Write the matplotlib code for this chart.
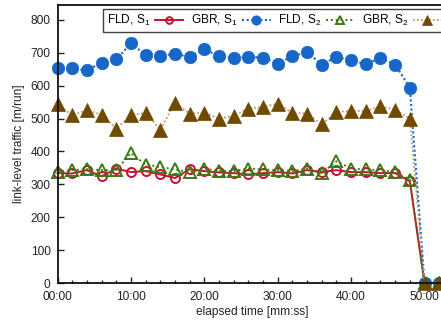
import matplotlib
matplotlib.use("Agg")
import matplotlib.pyplot as plt
import numpy as np
from matplotlib.ticker import MultipleLocator, FuncFormatter

plt.rcParams['font.family'] = ['Liberation Sans', 'DejaVu Sans']
plt.rcParams['mathtext.fontset'] = 'custom'
plt.rcParams['mathtext.rm'] = 'Liberation Sans'
plt.rcParams['mathtext.it'] = 'Liberation Sans'

# elapsed time in minutes
minutes = [0, 2, 4, 6, 8, 10, 12, 14, 16, 18, 20, 22, 24, 26, 28, 30, 32, 34, 36, 38,
           40, 42, 44, 46, 48, 50, 52]

fld_s1 = [334, 333, 343, 324, 348, 337, 340, 330, 319, 346, 340, 336, 334, 330, 334,
          337, 333, 343, 337, 343, 337, 337, 334, 334, 309, 0, 0]
gbr_s1 = [652, 652, 646, 670, 680, 728, 694, 690, 697, 687, 711, 689, 683, 687, 685,
          667, 689, 702, 664, 687, 677, 665, 684, 664, 594, 0, 0]
fld_s2 = [337, 343, 346, 343, 343, 395, 360, 353, 345, 337, 348, 340, 340, 348, 345,
          343, 340, 348, 334, 370, 348, 345, 343, 337, 314, 0, 0]
gbr_s2 = [543, 510, 525, 512, 469, 510, 517, 466, 547, 515, 517, 500, 508, 530, 535,
          545, 517, 515, 482, 520, 523, 523, 537, 527, 500, 0, 0]

labels = ['FLD, S$_1$', 'GBR, S$_1$', 'FLD, S$_2$', 'GBR, S$_2$']

fig = plt.figure(figsize=(4.41, 3.23), dpi=100)
ax = fig.add_axes([57.5/441, 1-283/323, (448-57.5)/441, (283-5)/323])

red = '#c8102e'
blue = '#1767c9'
green = '#3b7a14'
brown = '#6f4a00'
tan = '#b89c6c'

FS = 8.6

ax.plot(minutes, fld_s1, color=red, lw=1.4, ls='-', marker='o', ms=6.5, mfc='none',
        mec=red, mew=1.4, label=labels[0], clip_on=False)
ax.plot(minutes, gbr_s1, color=blue, lw=1.5, ls=(0, (1, 1.2)), marker='o', ms=9,
        mfc=blue, mec=blue, mew=0.5, label=labels[1], clip_on=False)
ax.plot(minutes, fld_s2, color=green, lw=1.4, ls=(0, (1, 1.5)), marker='^', ms=8,
        mfc='none', mec=green, mew=1.4, label=labels[2], clip_on=False)
ax.plot(minutes, gbr_s2, color=tan, lw=1.3, ls=(0, (1, 1.2)), marker='^', ms=9.5,
        mfc=brown, mec=brown, mew=0.5, label=labels[3], clip_on=False)

ax.set_xlim(0, 53.2)
ax.set_ylim(0, 845)
ax.xaxis.set_major_locator(MultipleLocator(10))
ax.xaxis.set_minor_locator(MultipleLocator(2))
ax.xaxis.set_major_formatter(FuncFormatter(lambda v, p: f"{int(v):02d}:00"))
ax.yaxis.set_major_locator(MultipleLocator(100))

ax.tick_params(axis='both', which='both', direction='in', labelsize=FS,
               colors='#222222', top=False, right=False)
ax.tick_params(axis='both', which='major', length=4, width=1)
ax.tick_params(axis='x', which='minor', length=2.5, width=1)
ax.tick_params(axis='x', pad=6)
ax.tick_params(axis='y', pad=5)

for s in ['left', 'bottom', 'top', 'right']:
    ax.spines[s].set_linewidth(1.3)
    ax.spines[s].set_color('#111111')

ax.set_xlabel('elapsed time [mm:ss]', fontsize=FS, labelpad=2, color='#222222')
ax.set_ylabel('link-level traffic [m/run]', fontsize=FS, labelpad=4, color='#222222')

leg = ax.legend(ncol=4, markerfirst=False, loc='upper left',
                bbox_to_anchor=(103/441, 1-9.3/323), bbox_transform=fig.transFigure,
                fontsize=FS, frameon=True, fancybox=False, edgecolor='#111111',
                handlelength=2.4, handletextpad=0.4, columnspacing=0.6,
                borderpad=0.3, borderaxespad=0, markerscale=0.75)
leg.get_frame().set_linewidth(1.0)

fig.savefig('out.png', dpi=100)
